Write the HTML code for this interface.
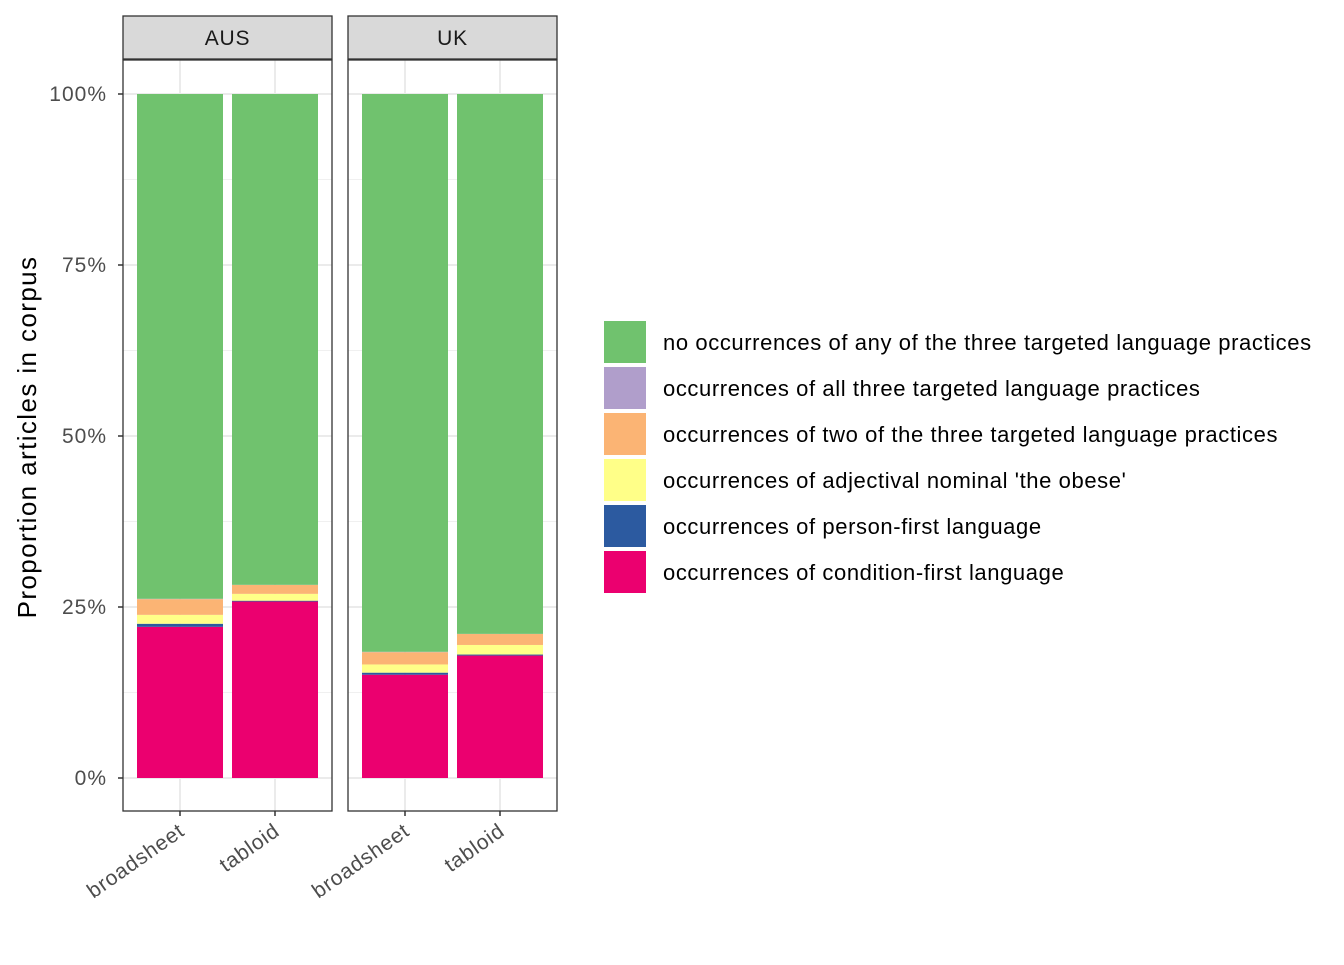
<!DOCTYPE html>
<html><head><meta charset="utf-8"><style>
body{margin:0;background:#fff;font-family:"Liberation Sans",Arial,sans-serif}
</style></head><body>
<svg width="1344" height="960" xmlns="http://www.w3.org/2000/svg" font-family="Liberation Sans, Arial, sans-serif">
<g id="plot"></g>
</svg>
<script>
const panels=["AUS","UK"];
const categories=["broadsheet","tabloid"];
const seriesNames=["occurrences of condition-first language","occurrences of person-first language","occurrences of adjectival nominal 'the obese'","occurrences of two of the three targeted language practices","occurrences of all three targeted language practices","no occurrences of any of the three targeted language practices"];
const seriesColors=["#EB006F","#2C5AA0","#FFFF88","#FBB474","#B09ECB","#70C26E"];
const condFirst=[[22.1,25.8],[15.1,17.9]];
const personFirst=[[0.45,0.12],[0.3,0.15]];
const adjNominal=[[1.3,1.0],[1.2,1.4]];
const twoOfThree=[[2.3,1.3],[1.8,1.6]];
const allThree=[[0.05,0.02],[0.05,0.02]];
const yTicks=[0,25,50,75,100];
const NS="http://www.w3.org/2000/svg";
const g=document.getElementById('plot');
function el(t,a,p){const e=document.createElementNS(NS,t);for(const k in a)e.setAttribute(k,a[k]);(p||g).appendChild(e);return e;}
const y=v=>778-v*6.84;
const panelX=[123,348],pw=209;
panels.forEach((p,pi)=>{
  const x0=panelX[pi];
  const xc=i=>x0+57+i*95;
  let r=el('rect',{x:x0,y:60,width:pw,height:751,fill:'#fff'});
  
  [12.5,37.5,62.5,87.5].forEach(v=>el('line',{x1:x0,x2:x0+pw,y1:y(v),y2:y(v),stroke:'#f0f0f0','stroke-width':1}));
  yTicks.forEach(v=>el('line',{x1:x0,x2:x0+pw,y1:y(v),y2:y(v),stroke:'#ebebeb','stroke-width':2}));
  categories.forEach((c,ci)=>el('line',{x1:xc(ci),x2:xc(ci),y1:60,y2:811,stroke:'#ebebeb','stroke-width':2}));
  categories.forEach((c,ci)=>{
    const vals=[condFirst[pi][ci],personFirst[pi][ci],adjNominal[pi][ci],twoOfThree[pi][ci],allThree[pi][ci]];
    const rest=100-vals.reduce((a,b)=>a+b,0);vals.push(rest);
    let base=0;
    vals.forEach((v,si)=>{
      const b=el('rect',{x:xc(ci)-43,y:y(base+v),width:86,height:v*6.84,fill:seriesColors[si]});
      
      
      base+=v;
    });
    el('line',{x1:xc(ci),x2:xc(ci),y1:811,y2:816,stroke:'#333','stroke-width':1.5});
    const t=el('text',{x:xc(ci)+6,y:834,'font-size':21,'letter-spacing':0.8,fill:'#4d4d4d','text-anchor':'end',transform:`rotate(-35 ${xc(ci)+6} 834)`});
    t.textContent=c;
  });
  el('rect',{x:x0,y:60,width:pw,height:751,fill:'none',stroke:'#333','stroke-width':1.3});
  const s=el('rect',{x:x0,y:16,width:pw,height:43,fill:'#d9d9d9',stroke:'#333','stroke-width':1.3});
  
  const st=el('text',{x:x0+pw/2,y:45,'font-size':21,'letter-spacing':0.8,fill:'#1a1a1a','text-anchor':'middle'});st.textContent=p;
});
yTicks.forEach(v=>{
  el('line',{x1:118,x2:123,y1:y(v),y2:y(v),stroke:'#333','stroke-width':1.5});
  const t=el('text',{x:107,y:y(v)+7,'font-size':21,'letter-spacing':1,fill:'#4d4d4d','text-anchor':'end'});t.textContent=v+'%';
  
});
const yt=el('text',{x:36,y:437,'font-size':26,'letter-spacing':1.4,fill:'#000','text-anchor':'middle',transform:'rotate(-90 36 437)'});
yt.textContent='Proportion articles in corpus';
for(let i=0;i<6;i++){
  const si=5-i,ky=321+i*46;
  const k=el('rect',{x:604,y:ky,width:42,height:42,fill:seriesColors[si]});
  
  const t=el('text',{x:663,y:ky+29,'font-size':22,'letter-spacing':0.6,fill:'#000'});t.textContent=seriesNames[si];
  
}
</script>
</body></html>
